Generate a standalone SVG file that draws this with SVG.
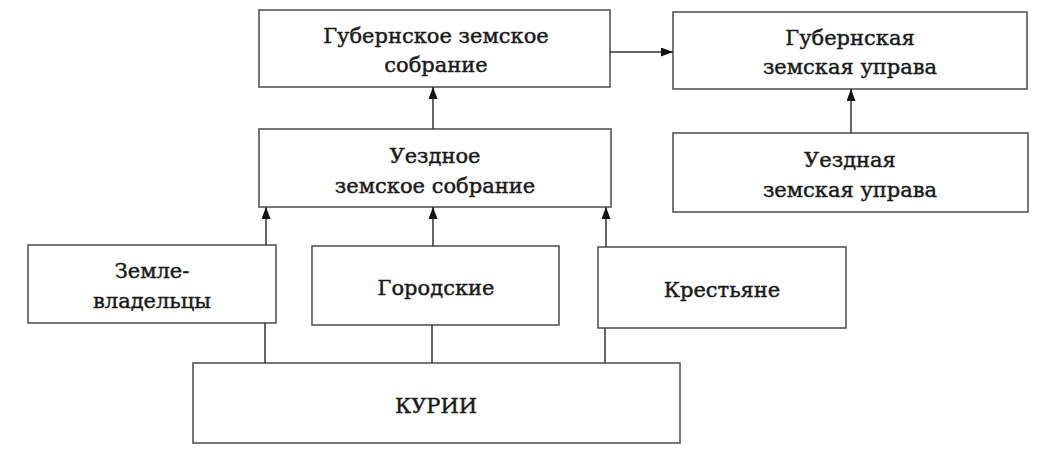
<svg xmlns="http://www.w3.org/2000/svg" width="1051" height="460" viewBox="0 0 1051 460">
<style>
.box{fill:#fff;stroke:#555;stroke-width:1.6}
.t{font-family:"DejaVu Serif","Liberation Serif",serif;font-size:21px;fill:#1a1a1a;stroke:#1a1a1a;stroke-width:0.45;text-anchor:middle}
.c{fill:none;stroke:#333;stroke-width:1.5}
</style>
<defs>
<marker id="ah" viewBox="0 0 12 9" refX="12" refY="4.5" markerWidth="12" markerHeight="9" markerUnits="userSpaceOnUse" orient="auto">
<path d="M0,0 L12,4.5 L0,9 Z" fill="#111"/>
</marker>
</defs>
<rect width="1051" height="460" fill="#fff"/>
<g id="gub-sobranie">
<rect class="box" x="259" y="10" width="351" height="77"/>
<text class="t" x="436" y="43">Губернское земское</text>
<text class="t" x="436" y="72">собрание</text>
</g>
<g id="gub-uprava">
<rect class="box" x="673" y="12" width="354" height="77"/>
<text class="t" x="850" y="45">Губернская</text>
<text class="t" x="850" y="74">земская управа</text>
</g>
<g id="uezd-sobranie">
<rect class="box" x="259" y="129" width="352" height="78"/>
<text class="t" x="435" y="163">Уездное</text>
<text class="t" x="435" y="193">земское собрание</text>
</g>
<g id="uezd-uprava">
<rect class="box" x="673" y="133" width="355" height="79"/>
<text class="t" x="850" y="167">Уездная</text>
<text class="t" x="850" y="197">земская управа</text>
</g>
<g id="zemlevladeltsy">
<rect class="box" x="28" y="245" width="248" height="78"/>
<text class="t" x="152" y="278">Земле-</text>
<text class="t" x="152" y="308">владельцы</text>
</g>
<g id="gorodskie">
<rect class="box" x="312" y="246" width="247" height="79"/>
<text class="t" x="436" y="295">Городские</text>
</g>
<g id="krestyane">
<rect class="box" x="598" y="247" width="248" height="81"/>
<text class="t" x="722" y="297">Крестьяне</text>
</g>
<g id="kurii">
<rect class="box" x="193" y="363" width="487" height="80"/>
<text class="t" x="436" y="413">КУРИИ</text>
</g>
<g id="connectors">
<line class="c" x1="610" y1="52" x2="673" y2="52" marker-end="url(#ah)"/>
<line class="c" x1="433" y1="129" x2="433" y2="87" marker-end="url(#ah)"/>
<line class="c" x1="851" y1="133" x2="851" y2="89" marker-end="url(#ah)"/>
<line class="c" x1="266" y1="245" x2="266" y2="207" marker-end="url(#ah)"/>
<line class="c" x1="433" y1="246" x2="433" y2="207" marker-end="url(#ah)"/>
<line class="c" x1="606" y1="247" x2="606" y2="207" marker-end="url(#ah)"/>
<line class="c" x1="265" y1="323" x2="265" y2="363"/>
<line class="c" x1="432" y1="325" x2="432" y2="363"/>
<line class="c" x1="605" y1="328" x2="605" y2="363"/>
</g>
</svg>
